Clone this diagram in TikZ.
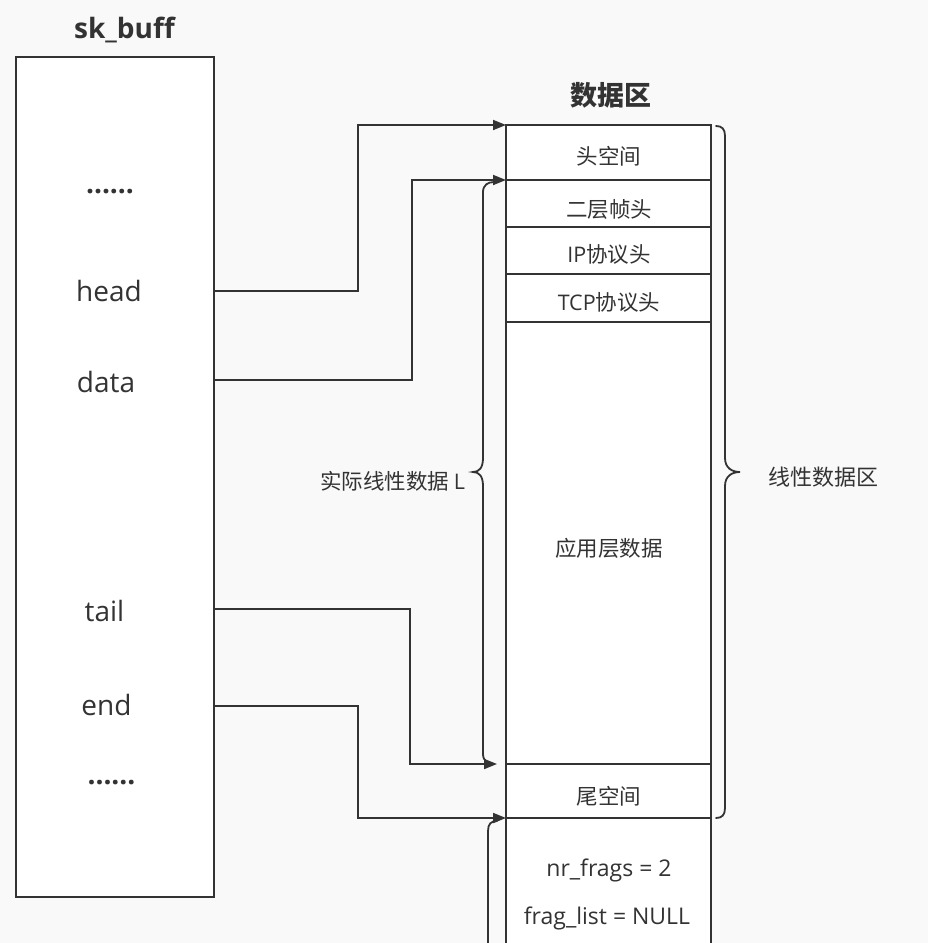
\documentclass[tikz,border=0pt]{standalone}
\usepackage{fontspec}
\setmainfont{Open Sans}
\newfontfamily\cjk{Noto Sans CJK SC}
\usetikzlibrary{arrows.meta}
\definecolor{bgc}{RGB}{249,249,249}
\definecolor{ink}{RGB}{51,51,51}
\begin{document}
\begin{tikzpicture}[x=1pt,y=-1pt,
  line width=1.8pt, draw=ink,
  box/.style={draw=ink,fill=white,line width=1.8pt,inner sep=0pt,outer sep=0pt,minimum width=198pt},
  cell/.style={draw=ink,fill=white,line width=1.8pt,inner sep=0pt,outer sep=0pt,minimum width=205pt},
  fld/.style={text=ink,inner sep=0pt,font=\fontsize{28}{34}\selectfont},
  ctxt/.style={text=ink,inner sep=0pt,font=\fontsize{21.5}{26}\selectfont\cjk},
  ftxt/.style={text=ink,inner sep=0pt,font=\fontsize{23}{28}\selectfont},
  ttl/.style={text=ink,inner sep=0pt,font=\fontsize{28}{34}\selectfont\bfseries},
  arr/.style={draw=ink,line width=1.8pt,-{Triangle[length=13pt,width=10pt]}},
  brc/.style={draw=ink,line width=1.8pt,line cap=round}
]
\fill[bgc] (0,0) rectangle (928,943);
\useasboundingbox (0,0) rectangle (928,943);

% sk_buff
\node[ttl] (skt) at (124.5,30) {sk\_buff};
\node[box,minimum height=840pt] (skb) at (115,477) {};
\node[fld,font=\fontsize{28}{34}\selectfont\bfseries] (dots1) at (110,192) {......};
\node[fld] (head) at (109,291) {head};
\node[fld] (data) at (106,382) {data};
\node[fld] (tail) at (104.5,611) {tail};
\node[fld] (end) at (106.5,705) {end};
\node[fld,font=\fontsize{28}{34}\selectfont\bfseries] (dots2) at (111.5,783) {......};

% data area
\node[ttl,font=\fontsize{27}{32}\selectfont\cjk\bfseries] (dtt) at (610.5,95) {数据区};
\node[fill=white,inner sep=0pt,outer sep=0pt,minimum width=205pt,minimum height=130pt] (fr) at (608.5,883) {};
\draw[ink] (fr.north west) -- (fr.south west) (fr.north east) -- (fr.south east);
\node[cell,minimum height=55pt] (c1) at (608.5,152.5) {};
\node[cell,minimum height=47pt] (c2) at (608.5,203.5) {};
\node[cell,minimum height=47pt] (c3) at (608.5,250.5) {};
\node[cell,minimum height=48pt] (c4) at (608.5,298) {};
\node[cell,minimum height=442pt] (c5) at (608.5,543) {};
\node[cell,minimum height=54pt] (c6) at (608.5,791) {};

\node[ctxt] (t1) at (609,156.5) {头空间};
\node[ctxt] (t2) at (609,209) {二层帧头};
\node[ctxt] (t3) at (609,254) {{\fontspec{Open Sans}IP}协议头};
\node[ctxt] (t4) at (609,302.5) {{\fontspec{Open Sans}TCP}协议头};
\node[ctxt] (t5) at (609,548) {应用层数据};
\node[ctxt] (t6) at (609,796) {尾空间};
\node[ftxt] (t7) at (609,870) {nr\_frags = 2};
\node[ftxt] (t8) at (607,918) {frag\_list = NULL};

% braces
\draw[brc] (716,126) .. controls (722,126) and (725,129) .. (725,136)
  -- (725,458) .. controls (725,468) and (732,472) .. (740,472)
  .. controls (732,472) and (725,476) .. (725,486)
  -- (725,808) .. controls (725,815) and (722,818) .. (716,818);
\node[ctxt,font=\fontsize{22}{26}\selectfont\cjk] (lin) at (823,477) {线性数据区};

\draw[brc] (494,182) .. controls (488,182) and (483,185) .. (483,192)
  -- (483,458) .. controls (483,468) and (479,472) .. (473,472)
  .. controls (479,472) and (483,476) .. (483,486)
  -- (483,754) .. controls (483,761) and (488,764) .. (494,764);
\node[ctxt,anchor=east] (act) at (466,481) {实际线性数据 {\fontspec{Open Sans}L}};

\draw[brc] (497,821) .. controls (491,821) and (488,824) .. (488,831) -- (488,945);

% connectors
\coordinate (hp) at (skb.east |- 0,291);
\coordinate (dp) at (skb.east |- 0,380);
\coordinate (tp) at (skb.east |- 0,609);
\coordinate (ep) at (skb.east |- 0,706);
\coordinate (tq) at ([xshift=-9pt]c6.north west);
\draw[arr] (hp) -- ++(144,0) |- (c1.north west);
\draw[arr] (dp) -- ++(198,0) |- (c2.north west);
\draw[arr] (tp) -- ++(196,0) |- (tq);
\draw[arr] (ep) -- ++(144,0) |- (fr.north west);
\end{tikzpicture}
\end{document}
